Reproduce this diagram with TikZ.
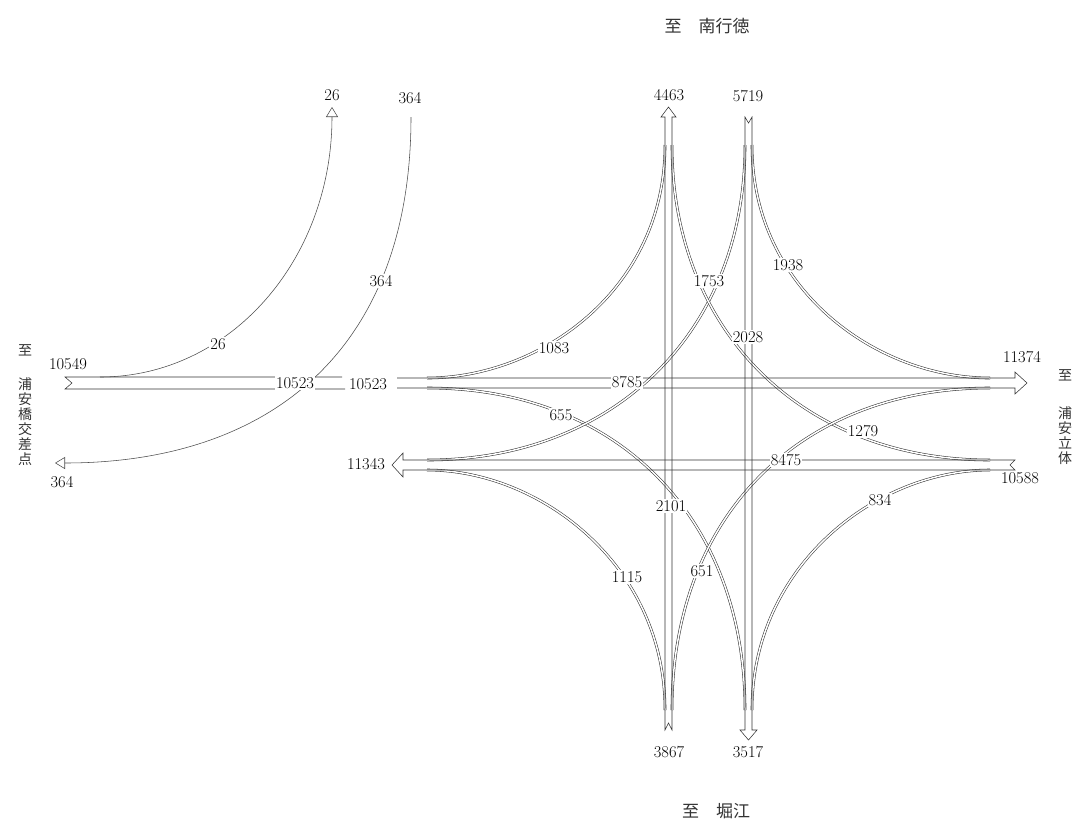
\documentclass[tikz,border=0pt]{standalone}
\usepackage{fontspec}
\newfontfamily\jpfont{Noto Sans CJK JP}
\usetikzlibrary{arrows.meta}

\begin{document}
\begin{tikzpicture}[x=1pt, y=-1pt,
    band/.style={draw=black!80, line width=0.55pt},
    ramp/.style={draw=black!80, double=white, double distance=1.5pt, line width=0.55pt},
    feeder/.style={draw=black!70, line width=0.55pt, -{Triangle[open, length=10pt, width=12pt]}},
    vol/.style={fill=white, inner sep=1pt, font=\fontsize{16.5}{16.5}\selectfont},
    num/.style={inner sep=1pt, font=\fontsize{16.5}{16.5}\selectfont},
    dest/.style={font=\jpfont\fontsize{17}{17}\selectfont, text=black!80},
    vdest/.style={font=\jpfont\fontsize{14}{15}\selectfont, align=center, text=black!80, inner sep=0pt}]

    \useasboundingbox (0,0) rectangle (1083,823);

    % Ramp ends
    \coordinate (wn0) at (427,378);  \coordinate (wn1) at (665,145);
    \coordinate (ws0) at (427,388);  \coordinate (ws1) at (745,710);
    \coordinate (nw0) at (745,145);  \coordinate (nw1) at (427,460);
    \coordinate (ne0) at (752,145);  \coordinate (ne1) at (990,378);
    \coordinate (en0) at (990,460);  \coordinate (en1) at (672,145);
    \coordinate (es0) at (990,470);  \coordinate (es1) at (752,710);
    \coordinate (sw0) at (665,710);  \coordinate (sw1) at (427,470);
    \coordinate (se0) at (672,710);  \coordinate (se1) at (990,388);

    % Turning ramps
    \draw[ramp] (wn0) .. controls (540,378) and (665,290) .. (wn1);
    \draw[ramp] (ws0) .. controls (620,388) and (745,520) .. (ws1);
    \draw[ramp] (nw0) .. controls (745,331) and (615,460) .. (nw1);
    \draw[ramp] (ne0) .. controls (752,290) and (877,378) .. (ne1);
    \draw[ramp] (en0) .. controls (802,460) and (672,331) .. (en1);
    \draw[ramp] (es0) .. controls (877,470) and (752,565) .. (es1);
    \draw[ramp] (sw0) .. controls (665,565) and (540,470) .. (sw1);
    \draw[ramp] (se0) .. controls (672,514) and (802,388) .. (se1);

    % Through lanes
    \draw[band] (342,377) -- (65,377) -- (72,383) -- (65,389) -- (345,389);
    \draw[band] (397,378) -- (1015,378) -- (1015,372) -- (1027,383) -- (1015,394) -- (1015,388) -- (397,388);
    \draw[band] (1015,460) -- (403,460) -- (403,453) -- (392,465) -- (403,477) -- (403,470) -- (1015,470) -- (1010,465) -- cycle;
    \draw[band] (665,730) -- (665,117) -- (661,117) -- (668.5,107) -- (676,117) -- (672,117) -- (672,730) -- (668.5,723) -- cycle;
    \draw[band] (745,117) -- (745,730) -- (740,730) -- (748.5,740) -- (757,730) -- (752,730) -- (752,117) -- (748.5,123) -- cycle;

    % Side roads to the west
    \coordinate (a0) at (100,377);   \coordinate (a1) at (332,107);
    \coordinate (b0) at (411,117);   \coordinate (b1) at (55,463);
    \draw[feeder] (a0) .. controls (230,377) and (332,260) .. (a1);
    \draw[feeder] (b0) .. controls (411,350) and (270,463) .. (b1);

    % Volumes on the ramps
    \node[vol] (v1083) at (554,348) {1083};
    \node[vol] (v655)  at (561,415) {655};
    \node[vol] (v8785) at (627,382) {8785};
    \node[vol] (v1753) at (709,281) {1753};
    \node[vol] (v2028) at (748,337) {2028};
    \node[vol] (v1938) at (788,265) {1938};
    \node[vol] (v1279) at (863,431) {1279};
    \node[vol] (v8475) at (786,460) {8475};
    \node[vol] (v834)  at (880,500) {834};
    \node[vol] (v2101) at (671,506) {2101};
    \node[vol] (v1115) at (627,577) {1115};
    \node[vol] (v651)  at (702,571) {651};
    \node[vol] (v26)   at (218,344) {26};
    \node[vol] (v364)  at (381,281) {364};
    \node[vol] (vleft) at (295,383) {10523};

    % Volumes at the ends
    \node[num] (nIn)   at (669,95)   {4463};
    \node[num] (nOut)  at (748,96)   {5719};
    \node[num] (sIn)   at (669,752)  {3867};
    \node[num] (sOut)  at (748,752)  {3517};
    \node[num] (eOut)  at (1022,357) {11374};
    \node[num] (eIn)   at (1020,478) {10588};
    \node[num] (wOut)  at (366,464)  {11343};
    \node[num] (wIn)   at (368,384)  {10523};
    \node[num] (lIn)   at (68,364)   {10549};
    \node[num] (aOut)  at (332,95)   {26};
    \node[num] (bIn)   at (410,98)   {364};
    \node[num] (bOut)  at (62,482)   {364};

    % Destinations
    \node[dest] (toN) at (707,26)  {至　南行徳};
    \node[dest] (toS) at (716,811) {至　堀江};
    \node[vdest] (toW0) at (25,350)    {至};
    \node[vdest] (toW)  at (25,421.5)  {浦\\安\\橋\\交\\差\\点};
    \node[vdest] (toE0) at (1065,375)  {至};
    \node[vdest] (toE)  at (1065,435.5) {浦\\安\\立\\体};
\end{tikzpicture}
\end{document}
